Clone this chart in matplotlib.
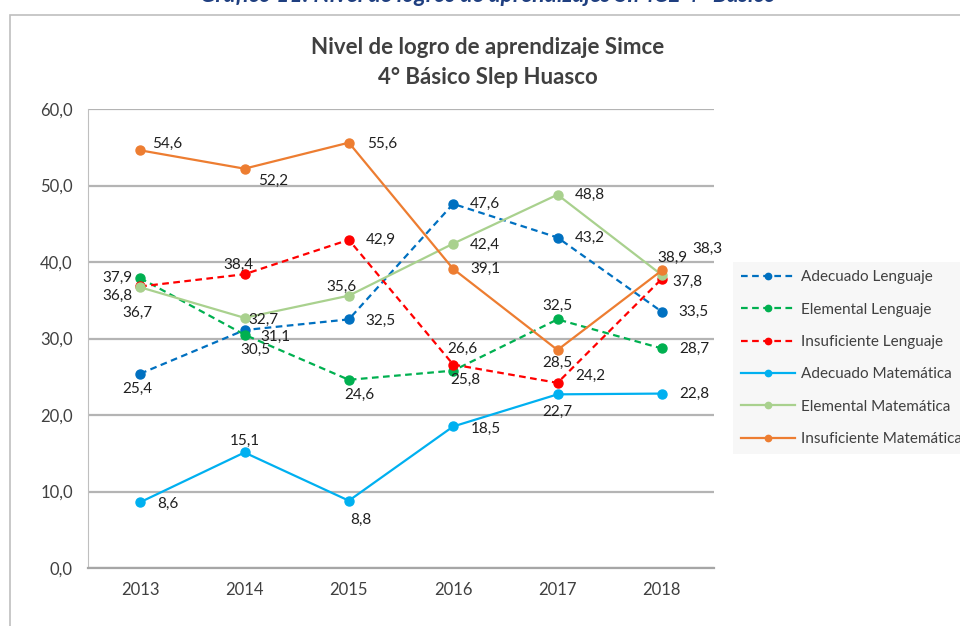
import matplotlib
matplotlib.use("Agg")
import matplotlib.pyplot as plt
from matplotlib.patches import Rectangle

plt.rcParams['font.family'] = ['Lato', 'DejaVu Sans']

years = ["2013", "2014", "2015", "2016", "2017", "2018"]

adecuado_lenguaje = [25.4, 31.1, 32.5, 47.6, 43.2, 33.5]
elemental_lenguaje = [37.9, 30.5, 24.6, 25.8, 32.5, 28.7]
insuficiente_lenguaje = [36.8, 38.4, 42.9, 26.6, 24.2, 37.8]
adecuado_matematica = [8.6, 15.1, 8.8, 18.5, 22.7, 22.8]
elemental_matematica = [36.7, 32.7, 35.6, 42.4, 48.8, 38.3]
insuficiente_matematica = [54.6, 52.2, 55.6, 39.1, 28.5, 38.9]

series_names = ["Adecuado Lenguaje", "Elemental Lenguaje", "Insuficiente Lenguaje",
                "Adecuado Matemática", "Elemental Matemática", "Insuficiente Matemática"]

# label placement per point: (dx px, dy px, ha)
R = lambda dy=0: (17, dy, 'left')
offsets = {
    "Adecuado Lenguaje": [(-3, -15, 'center'), (16, -7, 'left'), R(-2), R(), R(), R()],
    "Elemental Lenguaje": [(-8, 0, 'right'), (11, -15, 'center'), (11, -15, 'center'),
                           (12, -9, 'center'), (0, 13, 'center'), R()],
    "Insuficiente Lenguaje": [(-8, -9, 'right'), (-6, 9, 'center'), R(), (9, 16, 'center'),
                              (18, 7, 'left'), (11, -3, 'left')],
    "Adecuado Matemática": [(17, -2, 'left'), (0, 12, 'center'), (12, -19, 'center'),
                            (18, -2, 'left'), (0, -18, 'center'), R()],
    "Elemental Matemática": [(12, -26, 'right'), (4, -2, 'left'), (-7, 9, 'center'), R(-1),
                             R(), (31, 26, 'left')],
    "Insuficiente Matemática": [(12, 6, 'left'), (14, -12, 'left'), (18, -1, 'left'), R(),
                                (0, -13, 'center'), (11, 13, 'center')],
}

colors = ["#0070C0", "#00B050", "#FF0000", "#00B0F0", "#A9D18E", "#ED7D31"]
styles = [(0, (3, 2))] * 3 + ["-"] * 3
values = [adecuado_lenguaje, elemental_lenguaje, insuficiente_lenguaje,
          adecuado_matematica, elemental_matematica, insuficiente_matematica]

fig = plt.figure(figsize=(9.6, 6.26), dpi=100)
ax = fig.add_axes([88 / 960, 1 - 568 / 626, (714 - 88) / 960, (568 - 109) / 626])

# outer frame of the chart object
fig.add_artist(Rectangle((10 / 960, -0.05), 1.2, 1 - 15 / 626 + 0.05, transform=fig.transFigure,
                         fill=False, edgecolor="#bfbfbf", lw=1.2))

x = list(range(len(years)))
for name, vals, c, ls in zip(series_names, values, colors, styles):
    ax.plot(x, vals, color=c, linestyle=ls, lw=1.6, marker='o', markersize=6.5, label=name)
    for xi, v, (dx, dy, ha) in zip(x, vals, offsets[name]):
        ax.annotate(f"{v:.1f}".replace(".", ","), (xi, v), xytext=(dx, dy),
                    textcoords='offset pixels', ha=ha, va='center', fontsize=11, color="#202020")

ax.set_xlim(-0.5, 5.5)
ax.set_ylim(0, 60)
ax.set_xticks(x)
ax.set_xticklabels(years)
ax.set_yticks(range(0, 61, 10))
ax.set_yticklabels([f"{t},0" for t in range(0, 61, 10)])
ax.tick_params(length=0, labelsize=12, colors="#404040", pad=10)
ax.tick_params(axis='y', pad=11)
ax.grid(axis='y', color="#b4b4b4", lw=1.6)
ax.set_axisbelow(True)
for s in ["top", "right"]:
    ax.spines[s].set_visible(False)
ax.spines["left"].set_color("#bfbfbf")
ax.spines["bottom"].set_color("#a6a6a6")
ax.spines["bottom"].set_linewidth(1.6)

fig.text(0.508, 1 - 47 / 626, "Nivel de logro de aprendizaje Simce", ha='center', va='center',
         fontsize=16, fontweight='bold', color="#404040")
fig.text(0.508, 1 - 77 / 626, "4° Básico Slep Huasco", ha='center', va='center',
         fontsize=16, fontweight='bold', color="#404040")
fig.text(0.508, 1 - 2 / 626, "Gráfico 11: Nivel de logros de aprendizajes SIMCE 4° Básico",
         ha='center', va='baseline', fontsize=16.5, fontweight='bold', style='italic', color="#1F3F80")

leg = ax.legend(loc='upper left', bbox_to_anchor=(733 / 960, 1 - 262 / 626),
                bbox_transform=fig.transFigure, fontsize=11, frameon=True,
                facecolor="#f5f5f5", edgecolor="none", fancybox=False, borderaxespad=0,
                handlelength=3.5, labelspacing=1.2, markerscale=0.7, borderpad=0.55,
                handletextpad=0.4)
for t in leg.get_texts():
    t.set_color("#404040")

fig.savefig("out.png", dpi=100)
